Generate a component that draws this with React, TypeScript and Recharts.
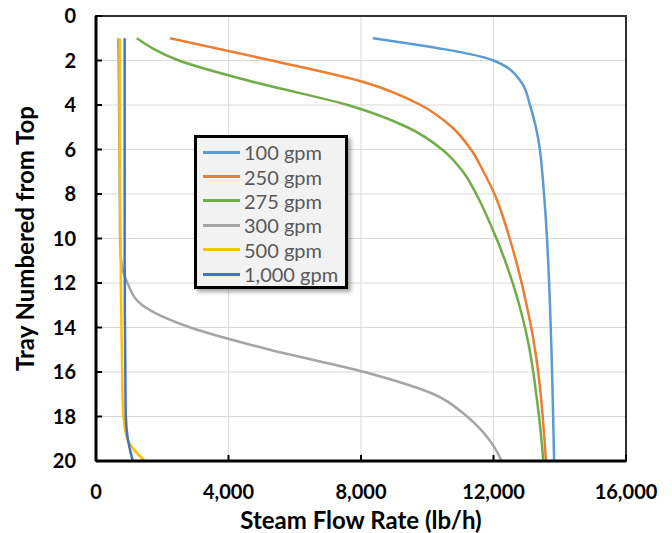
import { LineChart, Line, XAxis, YAxis, CartesianGrid, ReferenceArea } from "recharts";

const TRAYS = [1, 2, 3, 4, 5, 6, 7, 8, 9, 10, 11, 12, 13, 14, 15, 16, 17, 18, 19, 20];

const GPM_100 = [8360, 12000, 12850, 13100, 13280, 13400, 13470, 13525, 13575, 13615, 13650, 13680, 13705, 13728, 13750, 13768, 13785, 13800, 13815, 13830];
const GPM_250 = [2235, 5300, 8150, 9800, 10750, 11320, 11700, 12030, 12280, 12490, 12680, 12850, 13000, 13140, 13255, 13350, 13425, 13485, 13538, 13585];
const GPM_275 = [1230, 2500, 4850, 7600, 9400, 10450, 11080, 11480, 11800, 12090, 12350, 12580, 12780, 12950, 13090, 13200, 13290, 13375, 13445, 13505];
const GPM_300 = [670, 680, 690, 695, 700, 705, 710, 715, 720, 725, 760, 950, 1400, 2850, 5250, 8100, 10200, 11200, 11850, 12250];
const GPM_500 = [725, 720, 720, 720, 720, 720, 725, 730, 735, 740, 745, 750, 760, 770, 780, 790, 800, 830, 940, 1470];
const GPM_1000 = [865, 865, 865, 865, 865, 865, 865, 865, 865, 865, 865, 870, 870, 875, 880, 885, 890, 900, 960, 1110];

const X_TICKS = [0, 4000, 8000, 12000, 16000];
const Y_TICKS = [0, 2, 4, 6, 8, 10, 12, 14, 16, 18, 20];

const SERIES = [
  { key: "g100", name: "100 gpm", color: "#5B9BD5", values: GPM_100 },
  { key: "g250", name: "250 gpm", color: "#ED7D31", values: GPM_250 },
  { key: "g275", name: "275 gpm", color: "#70AD47", values: GPM_275 },
  { key: "g300", name: "300 gpm", color: "#A5A5A5", values: GPM_300 },
  { key: "g500", name: "500 gpm", color: "#FFC000", values: GPM_500 },
  { key: "g1000", name: "1,000 gpm", color: "#4472C4", values: GPM_1000 },
];

const data = TRAYS.map((tray, i) => {
  const row: Record<string, number> = { tray };
  SERIES.forEach((s) => (row[s.key] = s.values[i]));
  return row;
});

const FONT = "Lato, 'Open Sans', sans-serif";
const tickStyle = { fill: "#000", fontSize: 20, fontWeight: 700, fontFamily: FONT };
const titleStyle = { fill: "#000", fontSize: 24, fontWeight: 700, fontFamily: FONT };

export default function App() {
  return (
    <div style={{ position: "relative", width: 672, height: 533, margin: "-8px 0 0 -8px" }}>
      <LineChart
        layout="vertical"
        width={672}
        height={533}
        data={data}
        margin={{ top: 16, right: 46, bottom: 0, left: 8 }}
      >
        <CartesianGrid stroke="#D9D9D9" strokeWidth={1} />
        <XAxis
          type="number"
          domain={[0, 16000]}
          ticks={X_TICKS}
          interval={0}
          tickFormatter={(v: number) => v.toLocaleString("en-US")}
          height={72}
          axisLine={{ stroke: "#000", strokeWidth: 3 }}
          tickLine={{ stroke: "#000", strokeWidth: 2 }}
          tickSize={-6}
          tickMargin={30}
          tick={tickStyle}
          label={{
            value: "Steam Flow Rate (lb/h)",
            position: "insideBottom",
            offset: 4,
            style: titleStyle,
          }}
        />
        <YAxis
          type="number"
          dataKey="tray"
          domain={[0, 20]}
          ticks={Y_TICKS}
          interval={0}
          width={88}
          axisLine={{ stroke: "#000", strokeWidth: 3 }}
          tickLine={{ stroke: "#000", strokeWidth: 2 }}
          tickSize={-6}
          tickMargin={26}
          tick={tickStyle}
          label={{
            value: "Tray Numbered from Top",
            angle: -90,
            position: "insideLeft",
            offset: 17,
            textAnchor: "middle",
            style: { ...titleStyle, textAnchor: "middle" },
          }}
        />
        <ReferenceArea x1={0} x2={16000} y1={0} y2={20} fill="none" stroke="#303030" strokeWidth={2} />
        {SERIES.map((s) => (
          <Line
            key={s.key}
            dataKey={s.key}
            type="monotone"
            stroke={s.color}
            strokeWidth={2.5}
            dot={false}
            isAnimationActive={false}
          />
        ))}
      </LineChart>
      <div
        style={{
          position: "absolute",
          left: 194,
          top: 135,
          width: 148,
          height: 146,
          border: "3px solid #000",
          background: "#F2F2F2",
          boxShadow: "3px 3px 4px rgba(0,0,0,0.35)",
          fontFamily: FONT,
          fontSize: 20,
          color: "#595959",
          paddingTop: 2,
          boxSizing: "content-box",
        }}
      >
        {SERIES.map((s) => (
          <div key={s.key} style={{ display: "flex", alignItems: "center", height: 24.4 }}>
            <div style={{ width: 37, height: 3, background: s.color, marginLeft: 6, marginRight: 4 }} />
            <span style={{ lineHeight: "24px" }}>{s.name}</span>
          </div>
        ))}
      </div>
    </div>
  );
}
